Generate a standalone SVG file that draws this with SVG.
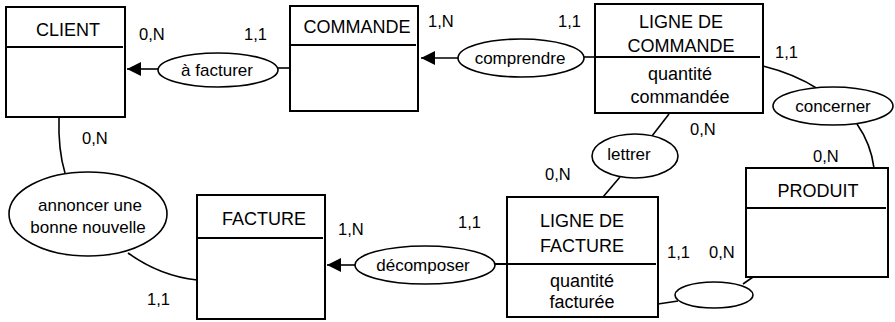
<svg xmlns="http://www.w3.org/2000/svg" width="895" height="322" viewBox="0 0 895 322">
<defs>
<style>
.box{fill:#fff;stroke:#000;stroke-width:2}
.div{stroke:#000;stroke-width:2;fill:none}
.ell{fill:#fff;stroke:#000;stroke-width:1.6}
.ln{stroke:#000;stroke-width:1.6;fill:none}
text{font-family:"Liberation Sans",Arial,sans-serif;font-size:17px;fill:#000}
.e{font-size:18px}
.k{font-size:16.5px}
.c{text-anchor:middle}
</style>
<marker id="arr" markerUnits="userSpaceOnUse" markerWidth="16" markerHeight="14" refX="14" refY="7" orient="auto">
<path d="M0,0 L14,7 L0,14 Z" fill="#000"/>
</marker>
</defs>
<rect width="895" height="322" fill="#fff"/>
<g id="connectors">
<line class="ln" x1="159" y1="69" x2="127" y2="69" marker-end="url(#arr)"/>
<line class="ln" x1="277" y1="68" x2="290" y2="68"/>
<line class="ln" x1="459" y1="58" x2="421" y2="58" marker-end="url(#arr)"/>
<line class="ln" x1="584" y1="57" x2="596" y2="57"/>
<path class="ln" d="M763,66 Q795,74 818,89"/>
<path class="ln" d="M857,124 Q871,144 874,168"/>
<line class="ln" x1="669" y1="114" x2="652" y2="136"/>
<line class="ln" x1="620" y1="177" x2="603" y2="197"/>
<line class="ln" x1="356" y1="265" x2="327" y2="265" marker-end="url(#arr)"/>
<path class="ln" d="M59,117 Q58,150 65,173"/>
<path class="ln" d="M128,253 Q160,276 197,280"/>
<line class="ln" x1="658" y1="304" x2="678" y2="301"/>
<line class="ln" x1="743" y1="284" x2="753" y2="277"/>
</g>
<g id="client">
<rect class="box" x="6" y="7" width="119" height="110"/>
<line class="div" x1="6" y1="47" x2="123" y2="47"/>
<text class="c e" x="68" y="36">CLIENT</text>
</g>
<g id="commande">
<rect class="box" x="290" y="6" width="128" height="105"/>
<line class="div" x1="290" y1="45" x2="416" y2="45"/>
<text class="c e" x="357" y="33">COMMANDE</text>
</g>
<g id="ligne-commande">
<rect class="box" x="595" y="4" width="168" height="109"/>
<line class="div" x1="595" y1="57" x2="760" y2="57"/>
<text class="c e" x="681" y="28">LIGNE DE</text>
<text class="c e" x="681" y="52">COMMANDE</text>
<text class="c e" x="680" y="80">quantité</text>
<text class="c e" x="680" y="103">commandée</text>
</g>
<g id="facture">
<rect class="box" x="197" y="195" width="128" height="124"/>
<line class="div" x1="197" y1="238" x2="323" y2="238"/>
<text class="c e" x="264" y="225">FACTURE</text>
</g>
<g id="ligne-facture">
<rect class="box" x="507" y="197" width="151" height="120"/>
<line class="div" x1="494" y1="264" x2="656" y2="264"/>
<text class="c e" x="582" y="227">LIGNE DE</text>
<text class="c e" x="582" y="252">FACTURE</text>
<text class="c e" x="582" y="287">quantité</text>
<text class="c e" x="582" y="308">facturée</text>
</g>
<g id="produit">
<rect class="box" x="746" y="168" width="142" height="109"/>
<line class="div" x1="746" y1="208" x2="886" y2="208"/>
<text class="c e" x="818" y="197">PRODUIT</text>
</g>
<g id="a-facturer">
<ellipse class="ell" cx="218" cy="70" rx="60" ry="17"/>
<text class="c" x="217" y="76">à facturer</text>
</g>
<g id="comprendre">
<ellipse class="ell" cx="521" cy="58" rx="63" ry="19"/>
<text class="c" x="520" y="64">comprendre</text>
</g>
<g id="concerner">
<ellipse class="ell" cx="833" cy="106" rx="60" ry="19"/>
<text class="c" x="833" y="112">concerner</text>
</g>
<g id="lettrer">
<ellipse class="ell" cx="635" cy="156" rx="43" ry="22"/>
<text class="c" x="629" y="160">lettrer</text>
</g>
<g id="decomposer">
<ellipse class="ell" cx="425" cy="265" rx="70" ry="19"/>
<text class="c" x="423" y="271">décomposer</text>
</g>
<g id="annoncer">
<ellipse class="ell" cx="88" cy="214" rx="79" ry="42"/>
<text class="c" x="90" y="211">annoncer une</text>
<text class="c" x="88" y="233">bonne nouvelle</text>
</g>
<g id="assoc-produit">
<ellipse class="ell" cx="714" cy="295" rx="39" ry="13"/>
</g>
<g id="cardinalities" class="k">
<text class="k" x="139" y="40">0,N</text>
<text class="k" x="244" y="40">1,1</text>
<text class="k" x="428" y="27">1,N</text>
<text class="k" x="558" y="27">1,1</text>
<text class="k" x="775" y="58">1,1</text>
<text class="k" x="690" y="135">0,N</text>
<text class="k" x="813" y="162">0,N</text>
<text class="k" x="545" y="180">0,N</text>
<text class="k" x="338" y="235">1,N</text>
<text class="k" x="458" y="228">1,1</text>
<text class="k" x="667" y="258">1,1</text>
<text class="k" x="709" y="258">0,N</text>
<text class="k" x="82" y="144">0,N</text>
<text class="k" x="147" y="305">1,1</text>
</g>
</svg>
